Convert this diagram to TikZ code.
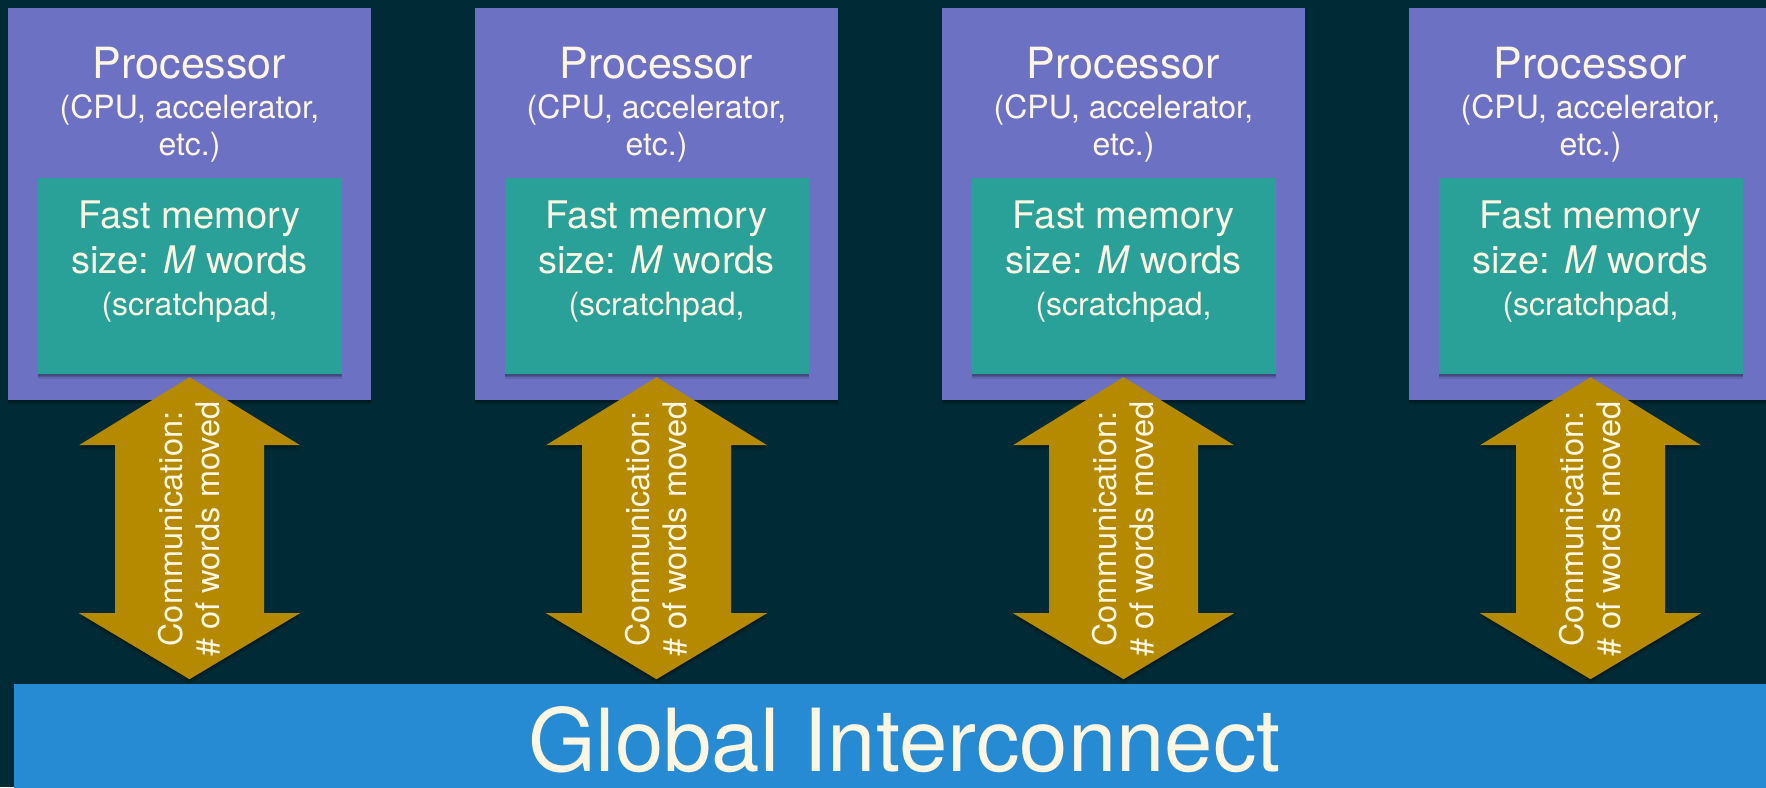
\documentclass[tikz,border=0pt]{standalone}
\usepackage{fontspec}
\setmainfont{TeX Gyre Heros}
\usetikzlibrary{shadows,calc}
\definecolor{bgdark}{HTML}{002B36}
\definecolor{procviolet}{HTML}{6C71C4}
\definecolor{memteal}{HTML}{2AA198}
\definecolor{busblue}{HTML}{268BD2}
\definecolor{commgold}{HTML}{B58900}
\definecolor{lighttext}{HTML}{FDF6E3}
\tikzset{
  softshadow/.style={
    drop shadow={shadow xshift=0pt,shadow yshift=-5pt,opacity=0.10,fill=black},
    drop shadow={shadow xshift=0pt,shadow yshift=-3pt,opacity=0.15,fill=black},
    drop shadow={shadow xshift=0pt,shadow yshift=-1.5pt,opacity=0.15,fill=black}},
  procbox/.style={rectangle,fill=procviolet,minimum width=363pt,minimum height=392pt,inner sep=0pt,softshadow},
  membox/.style={rectangle,fill=memteal,minimum width=304pt,minimum height=196pt,inner sep=0pt,softshadow},
  busbox/.style={rectangle,fill=busblue,minimum width=1782pt,minimum height=140pt,inner sep=0pt},
  commarrow/.style={fill=commgold,draw=none,softshadow},
  txt/.style={text=lighttext,inner sep=0pt,anchor=base},
  titlefont/.style={font=\fontsize{43}{43}\selectfont},
  subfont/.style={font=\fontsize{32}{32}\selectfont},
  memfont/.style={font=\fontsize{38}{38}\selectfont},
  commtext/.style={text=lighttext,inner sep=0pt,rotate=90,align=center,font=\fontsize{32.5}{37}\selectfont},
  bustext/.style={text=lighttext,inner sep=0pt,anchor=base,font=\fontsize{87}{87}\selectfont}
}
\begin{document}
\begin{tikzpicture}[x=1pt,y=-1pt]
\fill[bgdark] (0,0) rectangle (1766,787);
\useasboundingbox (0,0) rectangle (1766,787);

% global interconnect bar
\node[busbox,anchor=north west] (bus) at (13.5,684) {};
\node[bustext] (bustitle) at (904.5,771) {Global Interconnect};

% processors with their fast memories and links to the interconnect
\foreach \i/\cx in {1/189.5,2/656.5,3/1123.5,4/1590.5}{
  \node[procbox] (proc\i) at (\cx,204) {};
  \node[txt,titlefont] (ptitle\i) at (\cx,78) {Processor};
  \node[txt,subfont] (psub\i) at (\cx,118) {(CPU, accelerator,};
  \node[txt,subfont] (petc\i) at (\cx,155) {etc.)};
  \node[membox] (mem\i) at (\cx,276) {};
  \node[txt,memfont] (mtitle\i) at (\cx,228) {Fast memory};
  \node[txt,memfont] (msize\i) at (\cx,273) {size: \textit{M} words};
  \node[txt,subfont] (mkind\i) at (\cx,315) {(scratchpad,};
  \draw[commarrow] ($(mem\i.south)+(0,3)$) -- ++(110.5,68) -- ++(-36,0)
    -- ++(0,168) -- ++(36,0) -- ++(-110.5,66) -- ++(-110.5,-66)
    -- ++(36,0) -- ++(0,-168) -- ++(-36,0) -- cycle;
  \node[commtext] (comm\i) at ($(mem\i.south)!0.5!(bus.north -| mem\i.south)$)
    {Communication:\\\# of words moved};
}
\end{tikzpicture}
\end{document}
